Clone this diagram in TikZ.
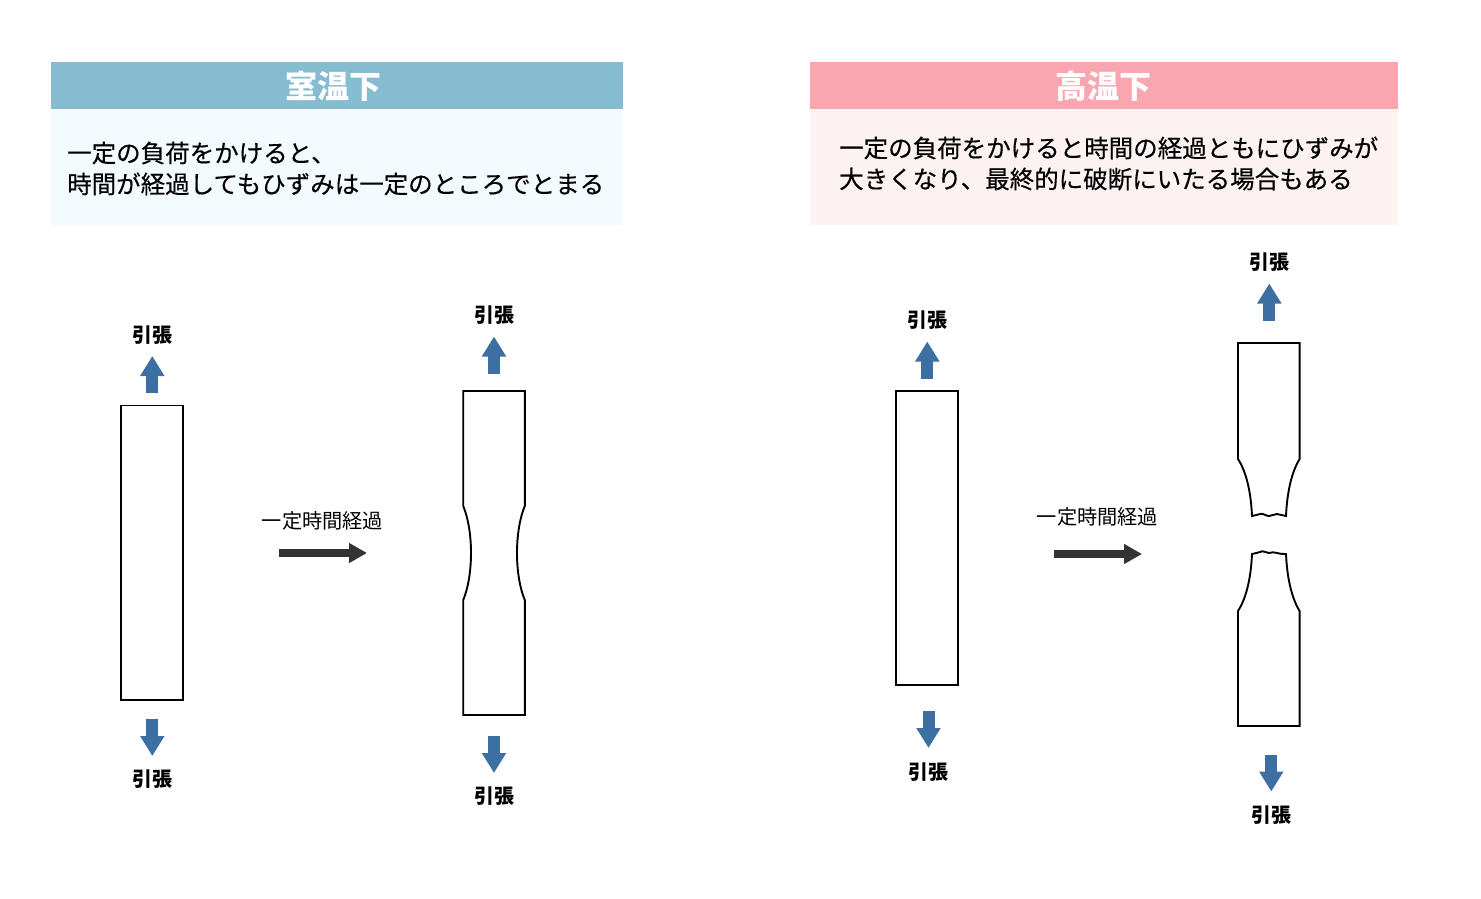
\documentclass[tikz,border=0pt]{standalone}
\usepackage{fontspec}
\newfontfamily\jpfont[FakeBold=0.3]{Noto Sans CJK JP}
\newfontfamily\jpplain{Noto Sans CJK JP}
\usetikzlibrary{arrows.meta}
\definecolor{headblue}{HTML}{85BCCF}
\definecolor{bodyblue}{HTML}{F3FBFE}
\definecolor{headpink}{HTML}{FAA6B0}
\definecolor{bodypink}{HTML}{FDF2F2}
\definecolor{pullblue}{HTML}{3E6FA3}
\definecolor{timegray}{HTML}{333333}
\tikzset{
  panelbox/.style={anchor=north west,inner sep=0pt},
  titletext/.style={inner sep=0pt,text=white,font=\jpplain\bfseries\fontsize{32}{32}\selectfont},
  bodytext/.style={anchor=west,inner sep=0pt,align=left,font=\jpfont\fontsize{24.5}{31}\selectfont},
  pulllabel/.style={inner sep=0pt,font=\jpplain\bfseries\fontsize{20}{20}\selectfont},
  timelabel/.style={inner sep=0pt,font=\jpplain\fontsize{20.2}{20}\selectfont},
  pullarrow/.style={draw=pullblue,line width=12pt,-{Triangle[length=20pt,width=23pt]}},
  timearrow/.style={draw=timegray,line width=8pt,-{Triangle[length=18pt,width=19pt]}},
  piece/.style={draw=black,line width=1.9pt,line join=miter},
}
\begin{document}
\begin{tikzpicture}[x=1pt,y=-1pt]
\useasboundingbox (0,0) rectangle (1481,898);

% left panel
\node[panelbox,fill=headblue,minimum width=572pt,minimum height=47pt] (headL) at (51,62) {};
\node[panelbox,fill=bodyblue,minimum width=572pt,minimum height=115.5pt] (bodyL) at (51,109) {};
\node[titletext] (titleL) at (333,86) {室温下};
\node[bodytext] (textL) at (67,168.5) {一定の負荷をかけると、\\時間が経過してもひずみは一定のところでとまる};

% right panel
\node[panelbox,fill=headpink,minimum width=588pt,minimum height=47pt] (headR) at (810,62) {};
\node[panelbox,fill=bodypink,minimum width=588pt,minimum height=115.5pt] (bodyR) at (810,109) {};
\node[titletext] (titleR) at (1103,86) {高温下};
\node[bodytext] (textR) at (839,163.5) {一定の負荷をかけると時間の経過ともにひずみが\\大きくなり、最終的に破断にいたる場合もある};

% specimens
\draw[piece] (121.4,405.5) rectangle (183,700);

\draw[piece] (463.2,391) -- (524.8,391) -- (524.8,506)
  .. controls (519,520) and (517,538) .. (517,553)
  .. controls (517,568) and (519,586) .. (524.8,600)
  -- (524.8,715) -- (463.2,715) -- (463.2,600)
  .. controls (469,586) and (471,568) .. (471,553)
  .. controls (471,538) and (469,520) .. (463.2,506) -- cycle;

\draw[piece] (896.4,391) rectangle (958,685);

\draw[piece] (1238,343) -- (1299.6,343) -- (1299.6,459)
  .. controls (1291,473) and (1287,494) .. (1286,516)
  .. controls (1283,516) and (1280,514) .. (1277,514)
  .. controls (1274,514) and (1272,516) .. (1269,516)
  .. controls (1266,516) and (1263,513) .. (1260,514)
  .. controls (1258,515) and (1255,515) .. (1252,516)
  .. controls (1251,494) and (1247,473) .. (1238,459) -- cycle;

\draw[piece] (1238,726) -- (1299.6,726) -- (1299.6,611)
  .. controls (1291,597) and (1287,576) .. (1286,554)
  .. controls (1283,553) and (1280,555) .. (1277,553)
  .. controls (1274,551) and (1272,553) .. (1269,553)
  .. controls (1266,553) and (1263,550) .. (1260,552)
  .. controls (1258,554) and (1255,552) .. (1252,554)
  .. controls (1251,576) and (1247,597) .. (1238,611) -- cycle;

% pull arrows
\foreach \x/\ya/\yb/\ylab/\xlab/\nm in {
  152.3/393/356/335.5/152.5/a,152.3/719/756/779.5/152.5/b,
  494/373.5/336.5/315.5/494/c,494/736/773/796.5/494/d,
  927.3/378.5/341.5/320.5/927.5/e,928.5/711/748/772.5/928.5/f,
  1269.3/320.5/283.5/262.5/1269/g,1271.3/754.5/791.5/815.5/1271/h}{
  \coordinate (from\nm) at (\x,\ya);
  \coordinate (to\nm) at (\x,\yb);
  \draw[pullarrow] (from\nm) -- (to\nm);
  \node[pulllabel] (pull\nm) at (\xlab,\ylab) {引張};
}

% elapsed time
\node[timelabel] (timeL) at (322.5,521) {一定時間経過};
\coordinate (timefromL) at (279,553);
\coordinate (timetoL) at (367,553);
\draw[timearrow] (timefromL) -- (timetoL);

\node[timelabel] (timeR) at (1097.5,517) {一定時間経過};
\coordinate (timefromR) at (1054,554);
\coordinate (timetoR) at (1142,554);
\draw[timearrow] (timefromR) -- (timetoR);
\end{tikzpicture}
\end{document}
